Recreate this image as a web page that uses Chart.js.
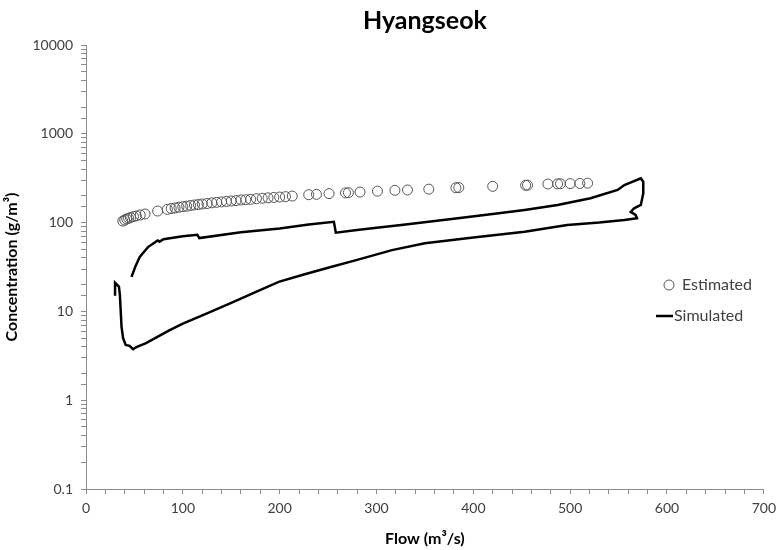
<!DOCTYPE html>
<html>
<head>
<meta charset="utf-8">
<script src="https://cdn.jsdelivr.net/npm/chart.js@4.4.1/dist/chart.umd.min.js"></script>
<style>
    html, body { margin: 0; padding: 0; background: #ffffff; }
    #wrap { width: 782px; height: 550px; }
</style>
</head>
<body>
<div id="wrap"><canvas id="mainChart" width="782" height="550"></canvas></div>
<script>
// Hyangseok - concentration vs flow (log y)

// Estimated (observed) points
const estFlow = [38, 40, 42, 44, 46, 49, 52, 56, 61, 74,
    84, 88, 92, 96, 100, 104, 108, 112, 116, 120, 125, 130, 135, 140, 145, 150,
    155, 160, 165, 170, 176, 182, 188, 194, 200, 206, 213,
    230, 238, 251, 268, 271, 283, 301, 319, 332, 354, 382, 385, 420,
    454, 456, 477, 487, 490, 500, 510, 518];
const estConc = [104, 107, 110, 112, 114, 117, 119, 122, 125, 135,
    141, 144, 146, 149, 151, 153, 156, 158, 160, 162, 164, 167, 169, 171, 173, 175,
    177, 180, 181, 183, 186, 188, 190, 192, 194, 196, 199,
    206, 208, 212, 216, 217, 221, 226, 231, 233, 238, 247, 248, 256,
    263, 264, 272, 273, 274, 275, 276, 278];

// Simulated hysteresis loop, in time order
const simFlow = [30, 30, 34, 35, 36.7, 38.3, 41, 45, 48.6, 52, 62, 86, 100, 125, 150, 175, 199,
    225, 250, 280, 316, 350, 400, 453, 497, 530, 556, 569, 567.6, 562.5, 566, 573, 575.5, 575.5, 573,
    556, 549, 521, 487, 453, 420, 384, 330, 282, 258, 256, 230, 200, 160, 117, 115, 100, 80, 76, 74,
    64, 60, 55.5, 51, 47];
const simConc = [15, 21, 19, 15.3, 6.7, 5.0, 4.2, 4.1, 3.75, 3.95, 4.4, 6.1, 7.3, 9.5, 12.5, 16.5, 21.5,
    26, 31, 38, 49, 58.5, 68, 79, 94, 100, 107, 112, 122, 132, 145, 158, 214, 289, 315,
    265, 233, 188, 158, 139, 125, 112, 95, 83, 77, 102, 95, 86, 78, 67, 73, 70, 65, 61, 63,
    53, 47, 41, 32, 24.5];

const xTicks = [0, 100, 200, 300, 400, 500, 600, 700];
const yTicks = [0.1, 1, 10, 100, 1000, 10000];

const FONT = 'Lato, "Liberation Sans", sans-serif';
const AXIS_GREY = '#8c8c8c';
const TEXT_GREY = '#404040';

function toPoints(xs, ys) {
    return xs.map((x, i) => ({ x: x, y: ys[i] }));
}

// Legend drawn inside the plot on the right, like the original
const sideLegend = {
    id: 'sideLegend',
    afterDraw(chart) {
        const ctx = chart.ctx;
        const sets = chart.data.datasets;
        ctx.save();
        ctx.font = '16px ' + FONT;
        ctx.fillStyle = TEXT_GREY;
        ctx.textBaseline = 'middle';
        // Estimated
        ctx.beginPath();
        ctx.arc(669, 285, 5, 0, Math.PI * 2);
        ctx.strokeStyle = '#555555';
        ctx.lineWidth = 1;
        ctx.stroke();
        ctx.fillText(sets[0].label, 682, 285);
        // Simulated
        ctx.beginPath();
        ctx.moveTo(656, 316);
        ctx.lineTo(673, 316);
        ctx.strokeStyle = '#000000';
        ctx.lineWidth = 2.5;
        ctx.stroke();
        ctx.fillText(sets[1].label, 674, 316);
        ctx.restore();
    }
};

const ctx = document.getElementById('mainChart').getContext('2d');
const chart = new Chart(ctx, {
    type: 'scatter',
    data: {
        datasets: [
            {
                label: 'Estimated',
                data: toPoints(estFlow, estConc),
                pointStyle: 'circle',
                pointRadius: 5,
                pointBorderWidth: 1,
                borderColor: '#555555',
                backgroundColor: 'rgba(0,0,0,0)',
                showLine: false
            },
            {
                label: 'Simulated',
                data: toPoints(simFlow, simConc),
                showLine: true,
                pointRadius: 0,
                borderColor: '#000000',
                borderWidth: 2.5,
                tension: 0,
                fill: false
            }
        ]
    },
    options: {
        responsive: false,
        animation: false,
        layout: { padding: { left: 0, right: 15, top: 0, bottom: 0 } },
        plugins: {
            legend: { display: false },
            tooltip: { enabled: false },
            title: {
                display: true,
                fullSize: false,
                text: 'Hyangseok',
                color: '#000000',
                font: { family: FONT, size: 25, weight: 'bold', lineHeight: 1.2 },
                padding: { top: 6, bottom: 9 }
            }
        },
        scales: {
            x: {
                type: 'linear',
                min: 0,
                max: 700,
                afterFit(scale) { scale.height = 61; },
                afterBuildTicks(scale) {
                    const t = [];
                    for (let v = 0; v <= 700; v += 20) t.push({ value: v });
                    scale.ticks = t;
                },
                border: { color: AXIS_GREY, width: 1 },
                grid: { drawOnChartArea: false, drawTicks: true, tickLength: 5, color: AXIS_GREY },
                ticks: {
                    autoSkip: false,
                    maxRotation: 0,
                    padding: 6,
                    color: TEXT_GREY,
                    font: { family: FONT, size: 14 },
                    callback: (v) => xTicks.includes(v) ? String(v) : ''
                },
                title: {
                    display: true,
                    text: 'Flow (m³/s)',
                    color: '#000000',
                    font: { family: FONT, size: 16, weight: 'bold' },
                    padding: { top: 2, bottom: 2 }
                }
            },
            y: {
                type: 'logarithmic',
                min: 0.1,
                max: 10000,
                afterFit(scale) { scale.width = 86; },
                border: { color: AXIS_GREY, width: 1 },
                grid: { drawOnChartArea: false, drawTicks: true, tickLength: 5, color: AXIS_GREY },
                ticks: {
                    autoSkip: false,
                    padding: 8,
                    color: TEXT_GREY,
                    font: { family: FONT, size: 14 },
                    callback: function(v) {
                        const hit = yTicks.find(t => Math.abs(t - v) < t * 1e-6);
                        return hit !== undefined ? String(hit) : '';
                    }
                },
                title: {
                    display: true,
                    text: 'Concentration (g/m³)',
                    color: '#000000',
                    font: { family: FONT, size: 16, weight: 'bold' },
                    padding: { top: 2, bottom: 0 }
                }
            }
        }
    },
    plugins: [sideLegend]
});
</script>
</body>
</html>
